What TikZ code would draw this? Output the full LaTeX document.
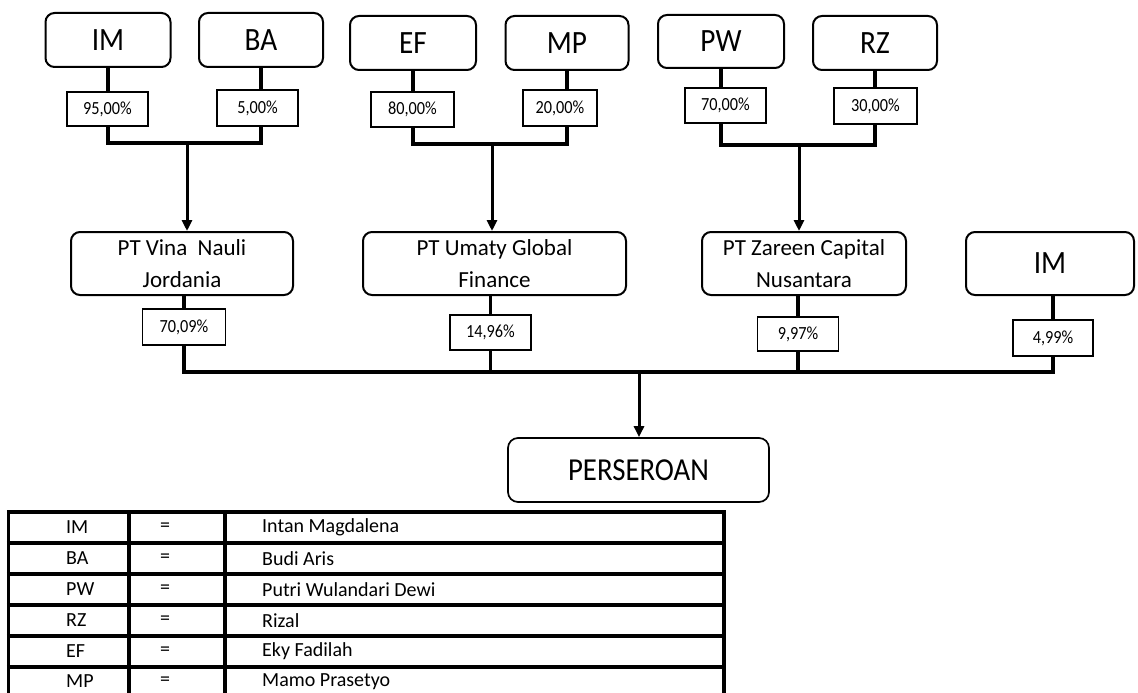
\documentclass[tikz,border=0pt]{standalone}
\usepackage{fontspec}
\setmainfont{Carlito}
\newfontfamily\pctfont{Carlito}[FakeStretch=0.88]
\newfontfamily\topfont{Carlito}[FakeStretch=0.9]
\usetikzlibrary{arrows.meta}
\begin{document}
\begin{tikzpicture}[x=1pt,y=-1pt,
  topbox/.style={draw, line width=2pt, rounded corners=9pt, inner sep=0pt, minimum height=54pt, font=\topfont\fontsize{32.5}{34}\selectfont},
  midbox/.style={draw, line width=2pt, rounded corners=9pt, inner sep=0pt, minimum height=63pt, align=center, font=\fontsize{23}{32}\selectfont},
  bottombox/.style={draw, line width=1.7pt, rounded corners=10pt, inner sep=0pt, minimum height=64pt, font=\topfont\fontsize{32}{34}\selectfont},
  pct/.style={draw, line width=1.6pt, inner sep=0pt, minimum height=35pt, font=\pctfont\fontsize{18.5}{20}\selectfont},
  conn/.style={line width=3.3pt},
  arr/.style={line width=3pt, -{Triangle[width=10pt,length=11pt]}},
  tline/.style={line width=3.4pt},
  tcell/.style={anchor=west, inner sep=0pt, font=\fontsize{20}{22}\selectfont}
]
\useasboundingbox[fill=white] (0,0) rectangle (1138,693);

% top owners
\node[topbox, minimum width=125pt] (IMa) at (108,40) {IM};
\node[topbox, minimum width=124pt] (BA)  at (261,40) {BA};
\node[topbox, minimum width=126pt] (EF)  at (413,43) {EF};
\node[topbox, minimum width=123pt] (MP)  at (567,43) {MP};
\node[topbox, minimum width=126pt, minimum height=53pt] (PW) at (721,41.5) {PW};
\node[topbox, minimum width=124pt] (RZ)  at (875,43) {RZ};

% first-level percentages
\node[pct, minimum width=81pt, minimum height=34pt] (p95) at (107.5,109) {95,00\%};
\node[pct, minimum width=81pt, minimum height=36pt] (p5)  at (257.5,108) {5,00\%};
\node[pct, minimum width=83pt] (p80) at (412.5,109.5) {80,00\%};
\node[pct, minimum width=74pt, minimum height=36pt] (p20) at (560,108) {20,00\%};
\node[pct, minimum width=81pt] (p70) at (725.5,105.5) {70,00\%};
\node[pct, minimum width=83pt, minimum height=36pt] (p30) at (875.5,106) {30,00\%};

% junctions
\coordinate (j1) at (187,143);
\coordinate (j2) at (492,144);
\coordinate (j3) at (799,145);
\coordinate (j4) at (639,372);

% middle companies
\node[midbox, minimum width=222pt] (vina)   at (182,263.5) {PT Vina\ \ Nauli\\Jordania};
\node[midbox, minimum width=263pt] (umaty)  at (494.5,263.5) {PT Umaty Global\\Finance};
\node[midbox, minimum width=204pt] (zareen) at (804,263.5) {PT Zareen Capital\\Nusantara};
\node[topbox, minimum width=168pt, minimum height=63pt] (IMb) at (1050,263.5) {IM};

% second-level percentages
\node[pct, minimum width=83pt, minimum height=36pt] (q1) at (184,327) {70,09\%};
\node[pct, minimum width=81pt] (q2) at (490.5,332.5) {14,96\%};
\node[pct, minimum width=81pt, minimum height=34pt] (q3) at (798,334) {9,97\%};
\node[pct, minimum width=80pt, minimum height=36pt] (q4) at (1053,338) {4,99\%};

% company
\node[bottombox, minimum width=261pt] (pers) at (638.5,470) {PERSEROAN};

% connectors level 1
\draw[conn] (IMa.south) -- (IMa.south |- p95.north);
\draw[conn] (BA.south) -- (BA.south |- p5.north);
\draw[conn] (p95.south -| IMa.south) |- (j1) -| (p5.south -| BA.south);
\draw[arr] (j1) -- (j1 |- vina.north);

\draw[conn] (EF.south) -- (EF.south |- p80.north);
\draw[conn] (MP.south) -- (MP.south |- p20.north);
\draw[conn] (p80.south -| EF.south) |- (j2) -| (p20.south -| MP.south);
\draw[arr] (j2) -- (j2 |- umaty.north);

\draw[conn] (PW.south) -- (PW.south |- p70.north);
\draw[conn] (RZ.south) -- (RZ.south |- p30.north);
\draw[conn] (p70.south -| PW.south) |- (j3) -| (p30.south -| RZ.south);
\draw[arr] (j3) -- (j3 |- zareen.north);

% connectors level 2
\draw[conn] (vina.south -| q1) -- (q1.north);
\draw[conn] (umaty.south -| q2) -- (q2.north);
\draw[conn] (zareen.south -| q3) -- (q3.north);
\draw[conn] (IMb.south -| q4) -- (q4.north);
\draw[conn] (q1.south) |- (j4) -| (q4.south);
\draw[conn] (q2.south) -- (q2.south |- j4);
\draw[conn] (q3.south) -- (q3.south |- j4);
\draw[arr] (j4) -- (j4 |- pers.north);

% legend table
\foreach \yy in {512,543,574,605,636,667}
  \draw[tline] (6.8,\yy) -- (725.7,\yy);
\foreach \xx in {8.5,129,225,724}
  \draw[tline] (\xx,510.3) -- (\xx,693);

\node[tcell] (a1) at (66,527.5) {IM};
\node[tcell] (b1) at (160,527.5) {=};
\node[tcell] (c1) at (262,527.5) {Intan Magdalena};
\node[tcell] (a2) at (66,558.5) {BA};
\node[tcell] (b2) at (160,558.5) {=};
\node[tcell] (c2) at (262,558.5) {Budi Aris};
\node[tcell] (a3) at (66,589.5) {PW};
\node[tcell] (b3) at (160,589.5) {=};
\node[tcell] (c3) at (262,589.5) {Putri Wulandari Dewi};
\node[tcell] (a4) at (66,620.5) {RZ};
\node[tcell] (b4) at (160,620.5) {=};
\node[tcell] (c4) at (262,620.5) {Rizal};
\node[tcell] (a5) at (66,651.5) {EF};
\node[tcell] (b5) at (160,651.5) {=};
\node[tcell] (c5) at (262,651.5) {Eky Fadilah};
\node[tcell] (a6) at (66,681.5) {MP};
\node[tcell] (b6) at (160,681.5) {=};
\node[tcell] (c6) at (262,681.5) {Mamo Prasetyo};
\end{tikzpicture}
\end{document}
